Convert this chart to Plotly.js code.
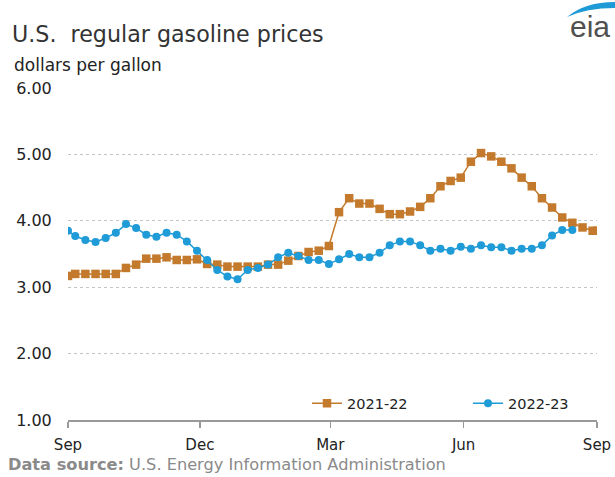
<!DOCTYPE html>
<html>
<head>
<meta charset="utf-8">
<script src="https://cdn.plot.ly/plotly-3.0.1.min.js"></script>
<style>html,body{margin:0;padding:0;background:#fff;}#chart{width:615px;height:477px;}</style>
</head>
<body>
<div id="chart"></div>
<script>
// Weekly observation dates on a common Sep-to-Sep axis (2021-22 calendar)
var seasonStart = '2021-09-01';
var firstWeek = '2021-09-06';
var seasonEnd = '2022-09-01';

var series2122 = [3.17,3.20,3.20,3.20,3.20,3.20,3.29,3.34,3.43,3.43,3.45,3.41,3.41,3.42,3.35,3.34,3.31,3.31,3.31,3.31,3.34,3.34,3.40,3.47,3.53,3.55,3.62,4.13,4.34,4.26,4.26,4.18,4.10,4.10,4.14,4.21,4.34,4.52,4.60,4.65,4.89,5.02,4.97,4.89,4.79,4.65,4.52,4.34,4.20,4.05,3.97,3.90,3.85,3.85];
var series2223 = [3.85,3.77,3.71,3.68,3.74,3.82,3.95,3.89,3.79,3.76,3.82,3.79,3.69,3.55,3.41,3.26,3.16,3.12,3.26,3.29,3.34,3.45,3.52,3.47,3.41,3.41,3.35,3.42,3.50,3.45,3.45,3.52,3.63,3.69,3.69,3.63,3.55,3.58,3.55,3.61,3.58,3.63,3.60,3.60,3.55,3.58,3.58,3.63,3.78,3.86,3.86];
var seriesNames = ['2021-22','2022-23'];
var tickDates = ['2021-09-01','2021-12-01','2022-03-01','2022-06-01','2022-09-01'];
var tickLabels = ['Sep','Dec','Mar','Jun','Sep'];
var yTicks = [1,2,3,4,5,6];
var yTickLabels = ['1.00','2.00','3.00','4.00','5.00','6.00'];

function pad(n){return (n<10?'0':'')+n;}
function fmt(d){return d.getUTCFullYear()+'-'+pad(d.getUTCMonth()+1)+'-'+pad(d.getUTCDate());}
// date grid: season start, then weekly dates, with season end as last slot
var dates = [seasonStart];
var d0 = new Date(firstWeek+'T00:00:00Z');
for (var i=0;i<52;i++){ dates.push(fmt(new Date(d0.getTime()+i*7*86400000))); }
dates.push(seasonEnd);

var orange = '#C47A2C', blue = '#1F9BD7';
var traces = [
  {x: dates.slice(0, series2122.length), y: series2122, name: seriesNames[0], type:'scatter', mode:'lines+markers',
   line:{color:orange,width:1.5}, marker:{symbol:'square',size:8.5,color:orange}},
  {x: dates.slice(0, series2223.length), y: series2223, name: seriesNames[1], type:'scatter', mode:'lines+markers',
   line:{color:blue,width:1.5}, marker:{symbol:'circle',size:8,color:blue}}
];

var font = 'DejaVu Sans, Liberation Sans, Arial, sans-serif';
var layout = {
  width:615, height:477,
  margin:{l:68,r:18,t:88,b:57,autoexpand:false},
  paper_bgcolor:'#fff', plot_bgcolor:'#fff',
  font:{family:font,color:'#222',size:15},
  title:{text:'U.S.  regular gasoline prices', x:12/615, xanchor:'left', xref:'container',
         y:1-34/477, yanchor:'middle', yref:'container', font:{family:font,size:22.2,color:'#333'}},
  showlegend:true,
  legend:{orientation:'h', x:(307-68)/529, xanchor:'left', y:0.05, yanchor:'middle',
          font:{family:font,size:14.5,color:'#222'}, bgcolor:'rgba(0,0,0,0)', entrywidth:116, traceorder:'normal'},
  xaxis:{type:'date', range:[seasonStart, seasonEnd], tickvals:tickDates, ticktext:tickLabels,
         showgrid:false, zeroline:false, showline:true, linecolor:'#999', linewidth:1.5,
         ticks:'outside', ticklen:6, tickcolor:'#999', tickwidth:1.5, ticklabelstandoff:4,
         tickfont:{family:font,size:15,color:'#222'}},
  yaxis:{range:[1,6], tickvals:yTicks, ticktext:yTickLabels, showgrid:true, gridcolor:'#c4c4c4',
         griddash:'dot', gridwidth:1, zeroline:false, showline:false,
         ticks:'outside', ticklen:12, tickcolor:'rgba(0,0,0,0)',
         tickfont:{family:font,size:16,color:'#222'}},
  annotations:[
    {text:'dollars per gallon', xref:'paper', yref:'paper', x:(12-68)/529, y:(420-65)/332,
     xanchor:'left', yanchor:'middle', showarrow:false, font:{family:font,size:17,color:'#222'}},
    {text:'<b>Data source:</b> U.S. Energy Information Administration', xref:'paper', yref:'paper',
     x:(6-68)/529, y:(420-464)/332, xanchor:'left', yanchor:'middle', showarrow:false,
     font:{family:font,size:16.2,color:'#8a8a8a'}},
    {text:'eia', xref:'paper', yref:'paper', x:(590-68)/529, y:(420-27)/332, xanchor:'center', yanchor:'middle',
     showarrow:false, font:{family:'Liberation Sans, Arial, sans-serif',size:30,color:'#505050'}}
  ],
  shapes:[
    {type:'path', xref:'paper', yref:'paper', fillcolor:'#1E9AD6', line:{width:0},
     path:'M 0.9433,1.2139 Q 0.9773,1.259 1.034,1.259 L 1.034,1.241 Q 0.98,1.241 0.9433,1.2139 Z'}
  ]
};
Plotly.newPlot('chart', traces, layout, {displayModeBar:false, staticPlot:true});
</script>
</body>
</html>
